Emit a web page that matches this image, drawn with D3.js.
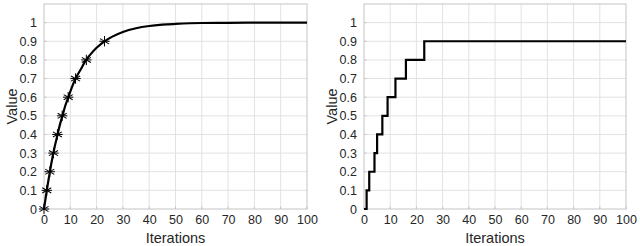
<!DOCTYPE html>
<html><head><meta charset="utf-8">
<script src="https://cdn.jsdelivr.net/npm/d3@7"></script>
<style>
html,body{margin:0;padding:0;background:#fff;}
svg{display:block;font-family:"Liberation Sans",Arial,Helvetica,sans-serif;}
</style></head>
<body>
<svg id="chart" width="640" height="246"></svg>
<script>
// ---- data ----
const xTicks = [0,10,20,30,40,50,60,70,80,90,100];
const yTicks = [0,0.1,0.2,0.3,0.4,0.5,0.6,0.7,0.8,0.9,1];
const yTickLabels = ["0","0.1","0.2","0.3","0.4","0.5","0.6","0.7","0.8","0.9","1"];

// left panel: smooth curve
const curveX = [0,1,2,3,4,5,6,7,8,9,10,12,14,16,18,20,23,26,30,35,40,45,50,60,70,80,90,100];
const curveY = [0,0.095,0.18,0.26,0.33,0.39,0.45,0.50,0.55,0.59,0.63,0.70,0.75,0.80,0.835,0.865,0.90,0.925,0.95,0.97,0.982,0.989,0.993,0.998,0.999,1,1,1];
// left panel: asterisk markers
const markerX = [0,1.05,2.2,3.6,5.1,6.9,9.2,12,16.1,23];
const markerY = [0,0.1,0.2,0.3,0.4,0.5,0.6,0.7,0.8,0.9];

// right panel: step function
const stepX = [0,1,2,4,5,7,9,12,16,23,100];
const stepY = [0,0.1,0.2,0.3,0.4,0.5,0.6,0.7,0.8,0.9,0.9];

const xLabel = "Iterations";
const yLabel = "Value";

// ---- drawing ----
const svg = d3.select("#chart");
const plotTop = 4, plotBottom = 209;
const panels = [
  {left:44, right:307, kind:"curve"},
  {left:364, right:626, kind:"step"}
];
const gridColor = "#e2e2e2", boxColor = "#c4c4c4", textColor = "#262626";

panels.forEach(p => {
  const x = d3.scaleLinear().domain([0,100]).range([p.left,p.right]);
  const y = d3.scaleLinear().domain([0,1.1]).range([plotBottom,plotTop]);
  const g = svg.append("g");

  // grid
  g.append("g").selectAll("line").data(xTicks.slice(1,-1)).join("line")
    .attr("x1",d=>x(d)).attr("x2",d=>x(d)).attr("y1",plotTop).attr("y2",plotBottom)
    .attr("stroke",gridColor).attr("stroke-width",1);
  g.append("g").selectAll("line").data(yTicks.slice(1)).join("line")
    .attr("y1",d=>y(d)).attr("y2",d=>y(d)).attr("x1",p.left).attr("x2",p.right)
    .attr("stroke",gridColor).attr("stroke-width",1);

  // box
  g.append("rect").attr("x",p.left).attr("y",plotTop)
    .attr("width",p.right-p.left).attr("height",plotBottom-plotTop)
    .attr("fill","none").attr("stroke",boxColor).attr("stroke-width",1);

  // axes (labels only, MATLAB style)
  const xAxis = d3.axisBottom(x).tickValues(xTicks).tickSize(0).tickPadding(6).tickFormat(d3.format("d"));
  const gx = g.append("g").attr("transform",`translate(0,${plotBottom})`).call(xAxis);
  gx.select(".domain").remove();
  gx.selectAll("text").attr("fill",textColor).style("font-size","12.5px").attr("dy","0.71em");

  const yAxis = d3.axisLeft(y).tickValues(yTicks).tickSize(0).tickPadding(7)
    .tickFormat((d,i)=>yTickLabels[i]);
  const gy = g.append("g").attr("transform",`translate(${p.left},0)`).call(yAxis);
  gy.select(".domain").remove();
  gy.selectAll("text").attr("fill",textColor).style("font-size","12.5px");

  // small inward ticks
  g.append("g").selectAll("line").data(xTicks).join("line")
    .attr("x1",d=>x(d)).attr("x2",d=>x(d)).attr("y1",plotBottom).attr("y2",plotBottom-2.5)
    .attr("stroke",boxColor);
  g.append("g").selectAll("line").data(yTicks).join("line")
    .attr("y1",d=>y(d)).attr("y2",d=>y(d)).attr("x1",p.left).attr("x2",p.left+2.5)
    .attr("stroke",boxColor);

  // axis labels
  g.append("text").attr("x",(p.left+p.right)/2).attr("y",243)
    .attr("text-anchor","middle").attr("fill",textColor)
    .style("font-size","14.5px").text(xLabel);
  g.append("text").attr("transform",`translate(${p.left-27},${(plotTop+plotBottom)/2}) rotate(-90)`)
    .attr("text-anchor","middle").attr("fill",textColor)
    .style("font-size","14.5px").text(yLabel);

  if (p.kind === "curve") {
    const pts = curveX.map((v,i)=>[v,curveY[i]]);
    g.append("path").datum(pts)
      .attr("d", d3.line().x(d=>x(d[0])).y(d=>y(d[1])).curve(d3.curveMonotoneX))
      .attr("fill","none").attr("stroke","#000").attr("stroke-width",2.2);
    const mk = markerX.map((v,i)=>[v,markerY[i]]);
    const r = 5.2;
    const star = g.append("g").selectAll("g").data(mk).join("g")
      .attr("transform",d=>`translate(${x(d[0])},${y(d[1])})`);
    [0,60,120].forEach(a=>{
      star.append("line").attr("x1",0).attr("y1",-r).attr("x2",0).attr("y2",r)
        .attr("transform",`rotate(${a})`).attr("stroke","#000").attr("stroke-width",1);
    });
    star.append("line").attr("x1",-r).attr("y1",0).attr("x2",r).attr("y2",0)
      .attr("stroke","#000").attr("stroke-width",1);
  } else {
    const pts = stepX.map((v,i)=>[v,stepY[i]]);
    g.append("path").datum(pts)
      .attr("d", d3.line().x(d=>x(d[0])).y(d=>y(d[1])).curve(d3.curveStepAfter))
      .attr("fill","none").attr("stroke","#000").attr("stroke-width",2.2);
  }
});
</script>
</body></html>
